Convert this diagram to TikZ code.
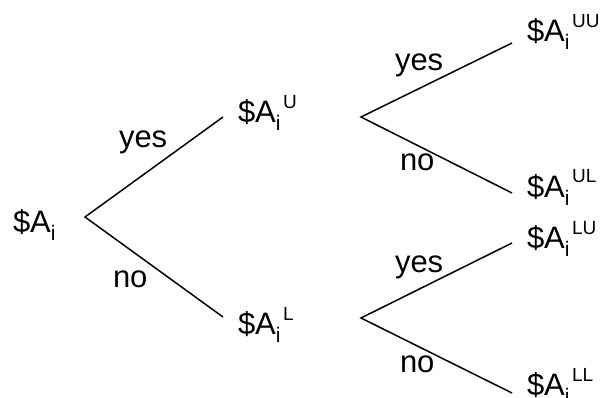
\documentclass[tikz,border=0pt]{standalone}
\usepackage{fontspec}
\setmainfont{Liberation Sans}
% subscript i and superscript tags of the outcome labels
\newcommand\subi{\raisebox{-8pt}{\fontsize{21}{21}\selectfont i}}
\newcommand\tag[1]{\hspace{2.5pt}\raisebox{14pt}{\fontsize{19}{19}\selectfont #1}}
\begin{document}
\begin{tikzpicture}[x=1pt,y=-1pt,
  outcome/.style={anchor=base west,inner sep=0pt,outer sep=0pt,font=\fontsize{31}{36}\selectfont},
  answer/.style={anchor=base west,inner sep=0pt,outer sep=0pt,font=\fontsize{31}{36}\selectfont},
  branch/.style={line width=1.5pt}]
\useasboundingbox (0,0) rectangle (602,398);

% outcomes
\node[outcome] (A)   at (13,233)  {\$A\subi};
\node[outcome] (AU)  at (238,123) {\$A\subi\tag{U}};
\node[outcome] (AL)  at (238,334) {\$A\subi\tag{L}};
\node[outcome] (AUU) at (527,42)  {\$A\subi\tag{UU}};
\node[outcome] (AUL) at (527,197) {\$A\subi\tag{UL}};
\node[outcome] (ALU) at (527,248) {\$A\subi\tag{LU}};
\node[outcome] (ALL) at (527,395) {\$A\subi\tag{LL}};

% branch points and branch ends
\coordinate (r)   at (85,217);
\coordinate (rU)  at (223,117);
\coordinate (rL)  at (223,317);
\coordinate (u)   at (361,117);
\coordinate (uU)  at (512,43);
\coordinate (uL)  at (512,193);
\coordinate (l)   at (361,318);
\coordinate (lU)  at (512,243);
\coordinate (lL)  at (512,393);

\draw[branch] (rU) -- (r) -- (rL);
\draw[branch] (uU) -- (u) -- (uL);
\draw[branch] (lU) -- (l) -- (lL);

% answers
\node[answer] (y1) at (119,148) {yes};
\node[answer] (n1) at (113,287) {no};
\node[answer] (y2) at (395,71)  {yes};
\node[answer] (n2) at (400,171) {no};
\node[answer] (y3) at (395,272) {yes};
\node[answer] (n3) at (400,372) {no};
\end{tikzpicture}
\end{document}
